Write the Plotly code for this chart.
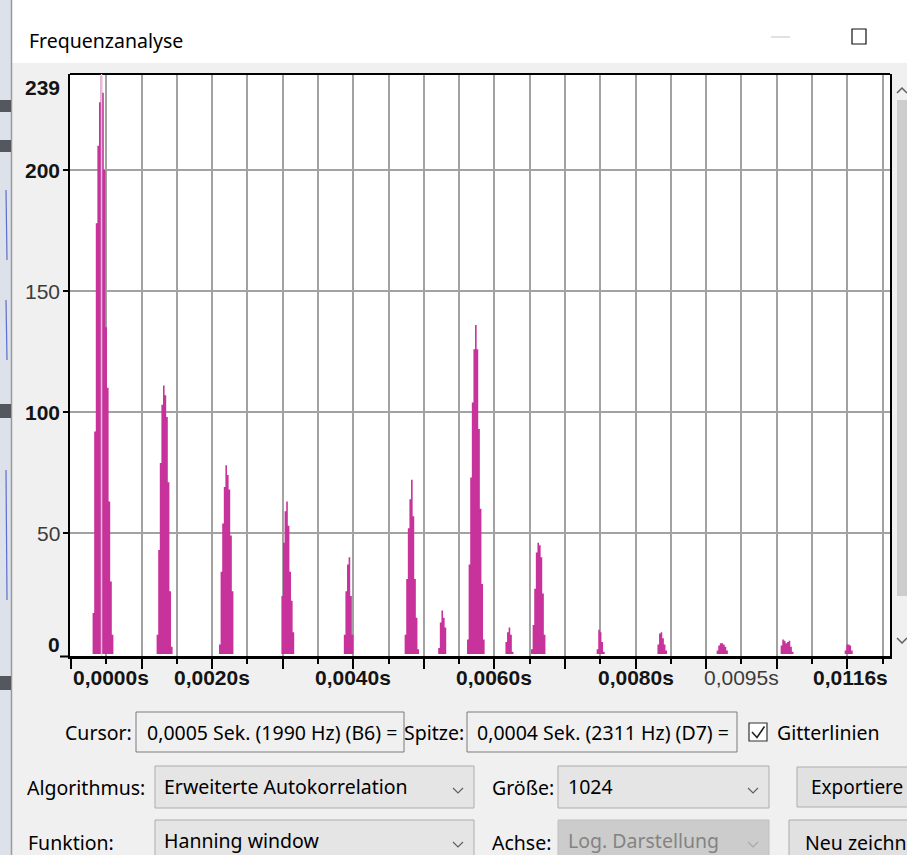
import plotly.graph_objects as go

W, H = 907, 855
SAMPLE_RATE = 44100
N_LAGS = 512

# Enhanced autocorrelation, lag in samples (samples not listed are zero)
lag_samples = [
    14, 15, 16, 17, 18, 19, 20, 21, 22, 23, 24, 25, 26,
    54, 55, 56, 57, 58, 59, 60, 61, 62, 63,
    93, 94, 95, 96, 97, 98, 99, 100, 101,
    132, 133, 134, 135, 136, 137, 138, 139,
    171, 172, 173, 174, 175, 176,
    209, 210, 211, 212, 213, 214, 215, 216, 217,
    230, 231, 232, 233, 234,
    248, 249, 250, 251, 252, 253, 254, 255, 256, 257, 258,
    272, 273, 274, 275, 276,
    288, 289, 290, 291, 292, 293, 294, 295, 296,
    329, 330, 331, 332, 333,
    367, 368, 369, 370, 371, 372,
    404, 405, 406, 407, 408, 409, 410,
    444, 445, 446, 447, 448, 449, 450, 451,
    484, 485, 486, 487, 488,
]
correlation = [
    17, 92, 178, 210, 228, 239, 232, 200, 135, 110, 63, 30, 8,
    8, 43, 79, 103, 111, 107, 98, 71, 26, 3,
    4, 34, 54, 69, 78, 74, 68, 49, 26,
    24, 46, 59, 63, 53, 34, 22, 9,
    8, 26, 37, 40, 24, 8,
    8, 31, 52, 64, 72, 57, 31, 15, 2,
    2.5, 13, 18, 15, 11,
    6, 37, 73, 104, 126, 136, 126, 93, 60, 29, 6,
    5, 9, 11, 8, 1,
    2, 12, 27, 42, 46, 45, 40, 25, 8,
    2, 10, 9, 5, 1,
    4, 8.5, 9, 6.5, 4, 1.5,
    1.5, 3.5, 4.5, 4.5, 4, 3, 1.5,
    3.5, 6, 5.5, 4.5, 5, 5.5, 3, 1,
    1.5, 4, 4, 3.5, 1.5,
]

peak_lag_s = 0.0004327          # 2311 Hz
y_label_values = [239, 200, 150, 100, 50, 0]
y_label_major = [True, True, False, True, False, True]
x_label_values = [0.0, 0.002, 0.004, 0.006, 0.008, 0.0095, 0.0116]
x_label_text = ["0,0000s", "0,0020s", "0,0040s", "0,0060s", "0,0080s", "0,0095s", "0,0116s"]
x_label_major = [True, True, True, True, True, False, True]

# full lag series, one value per sample
by_lag = dict(zip(lag_samples, correlation))
series_lag_s = [k / SAMPLE_RATE for k in range(N_LAGS)]
series_val = [by_lag.get(k, 0) for k in range(N_LAGS)]

PINK = "#C8329B"
UI_FONT = "Noto Sans"
UI_SIZE = 19.5
RULER_FONT = "Liberation Sans"
RULER_SIZE = 21


def X(px):
    return px / W


def Y(py):
    return 1 - py / H


def path(points, close=False):
    s = "M " + " L ".join(f"{X(x):.5f},{Y(y):.5f}" for x, y in points)
    return s + (" Z" if close else "")


shapes = []
annotations = []


def rect(x0, y0, x1, y1, fill, line=None, lw=1, layer="above"):
    shapes.append(dict(type="rect", xref="paper", yref="paper",
                       x0=X(x0), x1=X(x1), y0=Y(y1), y1=Y(y0),
                       fillcolor=fill, layer=layer,
                       line=dict(color=line or fill, width=lw if line else 0)))


def seg(pts, color, width, layer="above"):
    shapes.append(dict(type="path", xref="paper", yref="paper", path=path(pts),
                       line=dict(color=color, width=width), layer=layer))


def text(x, y, s, size=UI_SIZE, color="#000000", anchor="left", family=UI_FONT):
    annotations.append(dict(xref="paper", yref="paper", x=X(x), y=Y(y), text=s,
                            showarrow=False, xanchor=anchor, yanchor="middle",
                            font=dict(family=family, size=size, color=color)))


def chevron(cx, cy, color="#606060"):
    seg([(cx - 5, cy - 3), (cx, cy + 2), (cx + 5, cy - 3)], color, 1.2)


# ---- window chrome ----
rect(0, 0, W, 63, "#ffffff", layer="below")
rect(0, 0, 11, H, "#dde1ea", layer="below")
seg([(11.5, 0), (11.5, H)], "#9a9a9a", 1.5, layer="below")
for y0, y1 in [(100, 112), (140, 152), (404, 418), (676, 690)]:
    rect(0, y0, 11, y1, "#55575e", layer="below")
for y0, y1 in [(190, 260), (300, 360), (470, 600)]:
    seg([(6, y0), (7, y1)], "#5a6fcf", 1.2, layer="below")
text(27, 40, "Frequenzanalyse")
seg([(771, 37), (790, 37)], "#c4c4c4", 1)
rect(852, 29, 866, 44, "rgba(0,0,0,0)", line="#111111", lw=1.2)

# scroll bar at the right of the plot
rect(897, 100, 907, 596, "#cdcdcd")
seg([(897, 93), (902, 88), (907, 93)], "#606060", 1.5)
seg([(897, 638), (902, 643), (907, 638)], "#606060", 1.5)

# ---- plot frame details ----
shapes.append(dict(type="line", xref="paper", yref="paper",
                   x0=X(70), x1=X(890), y0=Y(74), y1=Y(74),
                   line=dict(color="black", width=2)))
seg([(60, 656.5), (70, 656.5)], "black", 2)
shapes.append(dict(type="line", xref="x", yref="y domain",
                   x0=peak_lag_s, x1=peak_lag_s, y0=0, y1=1,
                   line=dict(color="rgba(215,215,215,0.9)", width=1.5)))

# ---- ruler labels ----
for v, major in zip(y_label_values, y_label_major):
    shift = -12 if v == 239 else (10 if v == 0 else 0)
    annotations.append(dict(xref="paper", yref="y", x=X(62), y=v, yshift=shift,
                            text=f"<b>{v}</b>" if major else str(v),
                            showarrow=False, xanchor="right", yanchor="middle",
                            font=dict(family=RULER_FONT, size=RULER_SIZE,
                                      color="#141414" if major else "#3c3c3c")))
for i, (v, t, major) in enumerate(zip(x_label_values, x_label_text, x_label_major)):
    anchor = "left" if i == 0 else ("right" if i == len(x_label_values) - 1 else "center")
    annotations.append(dict(xref="x", yref="paper", x=v, y=Y(677),
                            text=f"<b>{t}</b>" if major else t,
                            showarrow=False, xanchor=anchor, yanchor="middle",
                            font=dict(family=RULER_FONT, size=RULER_SIZE,
                                      color="#141414" if major else "#3c3c3c")))

# ---- controls under the plot ----
text(134, 732, "Cursor:", anchor="right")
rect(136, 712, 404, 752, "#f0f0f0", line="#7a7a7a")
text(145, 732, "0,0005 Sek. (1990 Hz) (B6) =")
text(466, 732, "Spitze:", anchor="right")
rect(467, 712, 737, 752, "#f0f0f0", line="#7a7a7a")
text(475, 732, "0,0004 Sek. (2311 Hz) (D7) =")
rect(749, 723, 767, 741, "#ffffff", line="#333333", lw=1.2)
seg([(752, 732), (757, 737.5), (764.5, 726.5)], "#222222", 1.6)
text(775, 732, "Gitterlinien")

text(25, 787, "Algorithmus:")
rect(155, 766, 474, 808, "#e5e5e5", line="#adadad")
text(162, 786, "Erweiterte Autokorrelation")
chevron(458, 791)
text(490, 787, "Größe:")
rect(558, 766, 769, 808, "#e5e5e5", line="#adadad")
text(566, 786, "1024")
chevron(753, 791)
rect(797, 767, 920, 807, "#e1e1e1", line="#adadad")
text(809, 787, "Exportiere", size=19)

text(26, 842, "Funktion:")
rect(155, 820, 474, 870, "#e5e5e5", line="#adadad")
text(162, 840, "Hanning window")
chevron(458, 845)
text(490, 842, "Achse:")
rect(558, 820, 769, 870, "#cccccc", line="#bfbfbf")
text(566, 840, "Log. Darstellung", color="#838383")
chevron(753, 845, color="#a8a8a8")
rect(789, 820, 920, 870, "#e1e1e1", line="#adadad")
text(803, 842, "Neu zeichn")

# autocorrelation drawn as solid sample columns
fig = go.Figure(go.Scatter(
    x=series_lag_s, y=series_val, mode="lines",
    line=dict(shape="hvh", color="rgba(0,0,0,0)", width=0),
    fill="tozeroy", fillcolor=PINK,
    hoverinfo="skip",
))

grid_col = "#a2a2a2"
fig.update_layout(
    width=W, height=H,
    margin=dict(l=0, r=0, t=0, b=0),
    paper_bgcolor="#f0f0f0", plot_bgcolor="#ffffff",
    showlegend=False,
    xaxis=dict(
        domain=[X(70), X(890)], range=[-0.000014, 0.011606],
        tick0=0, dtick=0.001, ticks="outside", ticklen=10, tickwidth=2,
        tickcolor="black", showticklabels=False,
        showgrid=True, gridcolor=grid_col, gridwidth=1.5, zeroline=False,
        showline=True, linecolor="black", linewidth=3,
        minor=dict(dtick=0.0005, tick0=0, ticks="outside", ticklen=5, tickwidth=1.5,
                   tickcolor="black", showgrid=True, gridcolor=grid_col, gridwidth=1.5),
        fixedrange=True,
    ),
    yaxis=dict(
        domain=[Y(656), Y(74)], range=[-0.8, 239.7],
        tickvals=[50, 100, 150, 200], ticks="outside", ticklen=5, tickwidth=2,
        tickcolor="black", showticklabels=False,
        showgrid=True, gridcolor=grid_col, gridwidth=1.5, zeroline=False,
        showline=True, linecolor="black", linewidth=2, mirror=True,
        fixedrange=True,
    ),
    shapes=shapes,
    annotations=annotations,
)

fig.write_html("out.html")
